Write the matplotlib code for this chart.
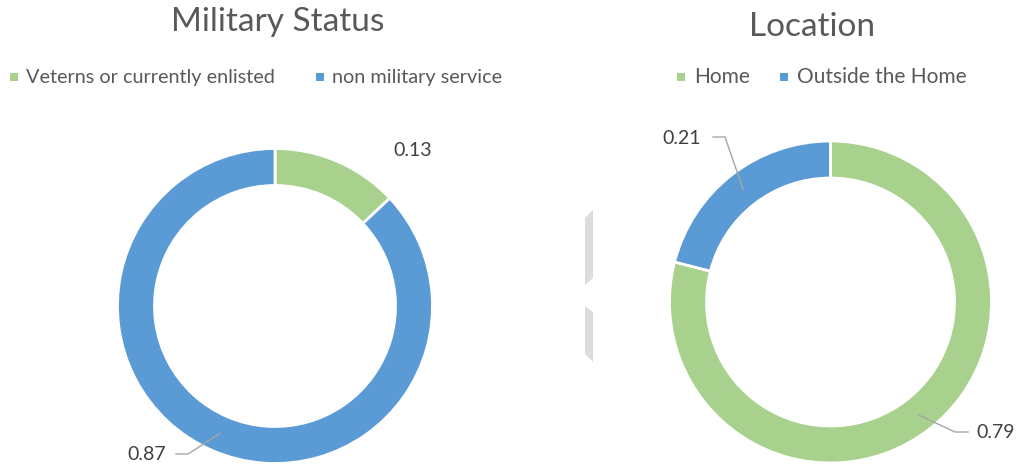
import matplotlib.pyplot as plt
import numpy as np
from matplotlib.patches import Rectangle, Polygon

# data
military_labels = ['Veterns or currently enlisted', 'non military service']
military_values = [0.13, 0.87]
location_labels = ['Home', 'Outside the Home']
location_values = [0.79, 0.21]

GREEN = '#A9D18E'
BLUE = '#5B9BD5'
colors = [GREEN, BLUE]

plt.rcParams['font.family'] = ['Lato', 'DejaVu Sans']

W, H = 1017, 468
fig = plt.figure(figsize=(W / 100, H / 100), dpi=100)
ax = fig.add_axes([0, 0, 1, 1])


def px(x, y):
    # screen pixel (top-left origin) -> data coords
    return x, H - y


def donut(values, center, radius, width=37):
    cx, cy = px(*center)
    ax.pie(values, colors=colors, startangle=90, counterclock=False,
           radius=radius, center=(cx, cy),
           wedgeprops=dict(width=width, edgecolor='white', linewidth=2))
    # anchor points at the middle of each ring slice
    anchors = []
    cum = 0
    for v in values:
        mid = (cum + v / 2) * 2 * np.pi
        rm = radius - width / 2
        anchors.append((cx + rm * np.sin(mid), cy + rm * np.cos(mid)))
        cum += v
    return anchors


def leader(anchor, elbow, end):
    ex, ey = px(*elbow)
    nx, ny = px(*end)
    ax.plot([anchor[0], ex, nx], [anchor[1], ey, ny], color='#a6a6a6', lw=1)


def legend(items, y, size):
    for (label, color, sq_x, txt_x) in items:
        sx, sy = px(sq_x, y)
        ax.add_patch(Rectangle((sx, sy - 4), 8, 8, color=color, lw=0))
        tx, ty = px(txt_x, y)
        ax.text(tx, ty, label, fontsize=size, color='#595959', va='center', ha='left')


def value_label(x, y, v):
    ax.text(*px(x, y), f'{v:.2f}', fontsize=14, color='#404040', ha='center', va='center')


# left chart: Military Status
anc_m = donut(military_values, (275, 306), 157.5)
ax.text(*px(278, 22), 'Military Status', fontsize=24, color='#595959', ha='center', va='center')
legend([(military_labels[0], GREEN, 10, 26), (military_labels[1], BLUE, 316, 332)], 77, 14.3)
value_label(413, 151, military_values[0])
value_label(147, 455, military_values[1])
leader(anc_m[1], (188, 454), (176, 454))

# right chart: Location
anc_l = donut(location_values, (830.5, 302), 161)
ax.text(*px(812, 27), 'Location', fontsize=24, color='#595959', ha='center', va='center')
legend([(location_labels[0], GREEN, 677, 694), (location_labels[1], BLUE, 780, 797)], 77, 15)
value_label(996, 433, location_values[0])
leader(anc_l[0], (955, 432), (968, 432))
value_label(682, 138, location_values[1])
leader(anc_l[1], (725, 137), (713, 137))

# faint grey marks between the charts
for pts in [[(585, 218), (593, 210), (593, 278), (585, 285)],
            [(585, 306), (593, 312), (593, 362), (585, 354)]]:
    ax.add_patch(Polygon([px(x, y) for x, y in pts], closed=True, color='#dcdcdc', lw=0))

ax.set_xlim(0, W)
ax.set_ylim(0, H)
ax.set_aspect('auto')
ax.axis('off')

fig.savefig('out.png', dpi=100)
